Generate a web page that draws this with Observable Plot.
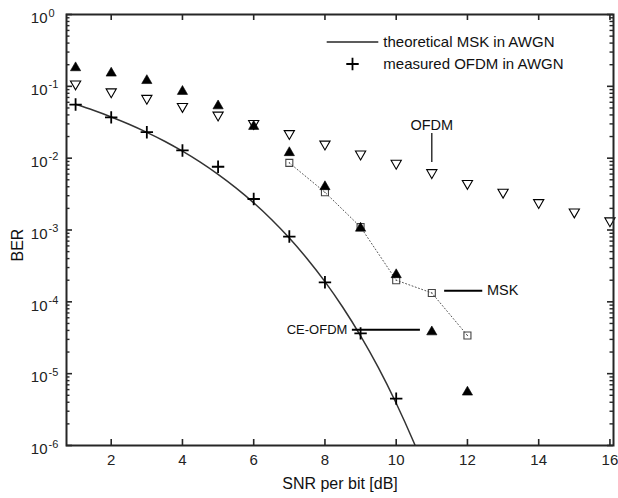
<!DOCTYPE html>
<html>
<head>
<meta charset="utf-8">
<script src="https://cdn.jsdelivr.net/npm/d3@7"></script>
<script src="https://cdn.jsdelivr.net/npm/@observablehq/plot@0.6"></script>
<style>
  body { margin: 0; background: #fff; }
  #chart svg { display: block; }
</style>
</head>
<body>
<div id="chart"></div>
<script>
// SNR per bit [dB] for each measured series
const snrCe = [1, 2, 3, 4, 5, 6, 7, 8, 9, 10, 11, 12];
const snrOfdm = [1, 2, 3, 4, 5, 6, 7, 8, 9, 10, 11, 12, 13, 14, 15, 16];
const snrMsk = [7, 8, 9, 10, 11, 12];
const snrAwgn = [1, 2, 3, 4, 5, 6, 7, 8, 9, 10];
const snrTheory = [1, 1.5, 2, 2.5, 3, 3.5, 4, 4.5, 5, 5.5, 6, 6.5, 7, 7.5, 8, 8.5, 9, 9.5, 10, 10.5, 10.75];

// Bit error rates
const berCe = [0.19, 0.16, 0.126, 0.089, 0.056, 0.029, 0.0125, 0.0042, 0.00111, 0.00025, 4.0e-5, 5.8e-6];
const berOfdm = [0.103, 0.080, 0.065, 0.050, 0.038, 0.029, 0.021, 0.015, 0.0109, 0.0081, 0.0060, 0.00425, 0.0032, 0.0023, 0.0017, 0.00128];
const berMsk = [0.0086, 0.00335, 0.0011, 0.0002, 1.33e-4, 3.4e-5];
const berAwgn = [0.0558, 0.037, 0.023, 0.0128, 0.0076, 0.0027, 8.1e-4, 1.87e-4, 3.64e-5, 4.5e-6];
const berTheory = [0.0563, 0.0464, 0.0375, 0.0297, 0.0229, 0.0172, 0.0125, 0.0088, 0.00595, 0.00386, 0.00239, 0.0014, 7.73e-4, 3.98e-4, 1.91e-4, 8.4e-5, 3.36e-5, 1.21e-5, 3.87e-6, 1.09e-6, 5.4e-7];

// Axis ticks
const xTicks = [2, 4, 6, 8, 10, 12, 14, 16];
const yExponents = [0, -1, -2, -3, -4, -5, -6];
const yMajor = yExponents.map(e => Math.pow(10, e));
const yMinor = yExponents.slice(1).flatMap(e => [2, 3, 4, 5, 6, 7, 8, 9].map(m => m * Math.pow(10, e)));

// Text
const legendLabels = ["theoretical MSK in AWGN", "measured OFDM in AWGN"];
const xLabel = "SNR per bit [dB]";
const yLabel = "BER";

const zip = (xs, ys) => xs.map((x, i) => ({x, y: ys[i]}));
const ce = zip(snrCe, berCe);
const ofdm = zip(snrOfdm, berOfdm);
const msk = zip(snrMsk, berMsk);
const awgn = zip(snrAwgn, berAwgn);
const theory = zip(snrTheory, berTheory);

// Triangle symbols centred on their bounding box
const triUp = {draw(ctx, size) {
  const s = Math.sqrt(4 * size / Math.sqrt(3)), h = s * Math.sqrt(3) / 2;
  ctx.moveTo(0, -h / 2); ctx.lineTo(s / 2, h / 2); ctx.lineTo(-s / 2, h / 2); ctx.closePath();
}};
const triDown = {draw(ctx, size) {
  const s = Math.sqrt(4 * size / Math.sqrt(3)), h = s * Math.sqrt(3) / 2;
  ctx.moveTo(0, h / 2); ctx.lineTo(s / 2, -h / 2); ctx.lineTo(-s / 2, -h / 2); ctx.closePath();
}};
// Thin plus with a fixed half-arm length
const plusSym = {draw(ctx, size) {
  const a = Math.sqrt(size) / 2;
  ctx.moveTo(-a, 0); ctx.lineTo(a, 0); ctx.moveTo(0, -a); ctx.lineTo(0, a);
}};

const W = 618, H = 498;
const mL = 66, mR = 5, mT = 14, mB = 53;
const frameW = W - mL - mR, frameH = H - mT - mB;
const ink = "#262626";
const font = "'Liberation Sans', Arial, Helvetica, sans-serif";
const plusArm = 6.2;

// Legend drawn in the upper right of the frame
function legend(index, scales, values, dimensions) {
  const g = d3.create("svg:g").attr("font-family", font).attr("font-size", 15)
    .attr("fill", "#111").attr("text-anchor", "start");
  const x0 = dimensions.marginLeft + 260.7, x1 = x0 + 51.6, tx = x1 + 5;
  const rowY = [dimensions.marginTop + 28, dimensions.marginTop + 50];
  g.append("line").attr("x1", x0).attr("x2", x1).attr("y1", rowY[0]).attr("y2", rowY[0])
    .attr("stroke", ink).attr("stroke-width", 1.6);
  const cx = (x0 + x1) / 2;
  g.append("path")
    .attr("d", `M${cx - plusArm},${rowY[1]}H${cx + plusArm}M${cx},${rowY[1] - plusArm}V${rowY[1] + plusArm}`)
    .attr("fill", "none").attr("stroke", "#000").attr("stroke-width", 1.8);
  legendLabels.forEach((t, i) => {
    g.append("text").attr("x", tx).attr("y", rowY[i]).attr("dy", "0.35em").text(t);
  });
  return g.node();
}

const chart = Plot.plot({
  width: W,
  height: H,
  marginLeft: mL,
  marginRight: mR,
  marginTop: mT,
  marginBottom: mB,
  style: {fontFamily: font, background: "#fff", color: "#111", overflow: "visible"},
  x: {domain: [0.745, 16.1], axis: null},
  y: {type: "log", domain: [1e-6, 1], axis: null},
  marks: [
    // theoretical MSK curve
    Plot.line(theory, {x: "x", y: "y", stroke: "#333", strokeWidth: 1.5, curve: "catmull-rom", clip: true}),
    // measured MSK joined with a dotted line
    Plot.line(msk, {x: "x", y: "y", stroke: "#555", strokeWidth: 1, strokeDasharray: "1,2.4"}),
    Plot.dot(msk, {x: "x", y: "y", symbol: "square", r: 3.95, fill: "none", stroke: "#444", strokeWidth: 1.1}),
    Plot.dot(msk, {x: "x", y: "y", r: 0.6, fill: "#444", stroke: "none"}),
    // OFDM (open down triangles)
    Plot.dot(ofdm, {x: "x", y: "y", symbol: triDown, r: 3.8, fill: "none", stroke: "#000", strokeWidth: 1.1}),
    // CE-OFDM (filled triangles)
    Plot.dot(ce, {x: "x", y: "y", symbol: triUp, r: 3.8, fill: "#000", stroke: "#000", strokeWidth: 0.6}),
    // measured OFDM in AWGN (plus)
    Plot.dot(awgn, {x: "x", y: "y", symbol: plusSym, r: 2 * plusArm / Math.sqrt(Math.PI), fill: "none", stroke: "#000", strokeWidth: 1.8}),

    // annotations
    Plot.ruleX([11], {x: d => d, y1: 0.022, y2: 0.0087, stroke: "#000", strokeWidth: 1.2}),
    Plot.text(["OFDM"], {x: 11, y: 0.0284, text: d => d, fontSize: 14.5, fill: "#111"}),
    Plot.ruleY([1.43e-4], {y: d => d, x1: 11.36, x2: 12.43, stroke: "#000", strokeWidth: 2}),
    Plot.text(["MSK"], {x: 12.55, y: 1.43e-4, text: d => d, textAnchor: "start", fontSize: 14.5, fill: "#111"}),
    Plot.ruleY([4.1e-5], {y: d => d, x1: 8.77, x2: 10.68, stroke: "#000", strokeWidth: 2}),
    Plot.text(["CE-OFDM"], {x: 8.77, y: 4.1e-5, text: d => d, textAnchor: "end", dx: -5, fontSize: 13, fill: "#111"}),

    // box
    Plot.frame({stroke: ink, strokeWidth: 2}),
    // inward ticks: bottom / top
    Plot.tickX(xTicks, {x: d => d, insetTop: frameH - 6, stroke: ink, strokeWidth: 1.6}),
    Plot.tickX(xTicks, {x: d => d, insetBottom: frameH - 6, stroke: ink, strokeWidth: 1.6}),
    // inward ticks: left / right (major and minor)
    Plot.tickY(yMajor, {y: d => d, insetRight: frameW - 6, stroke: ink, strokeWidth: 1.6}),
    Plot.tickY(yMajor, {y: d => d, insetLeft: frameW - 6, stroke: ink, strokeWidth: 1.6}),
    Plot.tickY(yMinor, {y: d => d, insetRight: frameW - 3.5, stroke: ink, strokeWidth: 1.4}),
    Plot.tickY(yMinor, {y: d => d, insetLeft: frameW - 3.5, stroke: ink, strokeWidth: 1.4}),

    // tick labels
    Plot.text(xTicks, {x: d => d, frameAnchor: "bottom", dy: 19.5, text: d => String(d), fontSize: 15, fill: "#222"}),
    Plot.text(yMajor, {y: d => d, frameAnchor: "left", dx: -19, dy: 4, textAnchor: "end", text: () => "10", fontSize: 15, fill: "#222"}),
    Plot.text(yExponents, {y: d => Math.pow(10, d), frameAnchor: "left", dx: -18, dy: -1.5, textAnchor: "start", text: d => String(d), fontSize: 11, fill: "#222"}),

    // axis titles
    Plot.text([xLabel], {frameAnchor: "bottom", dy: 43, text: d => d, fontSize: 16, fill: "#111"}),
    Plot.text([yLabel], {frameAnchor: "left", dx: -48.5, dy: 31.5, rotate: -90, text: d => d, fontSize: 16, fill: "#111"}),

    legend
  ]
});

document.getElementById("chart").appendChild(chart);
</script>
</body>
</html>
